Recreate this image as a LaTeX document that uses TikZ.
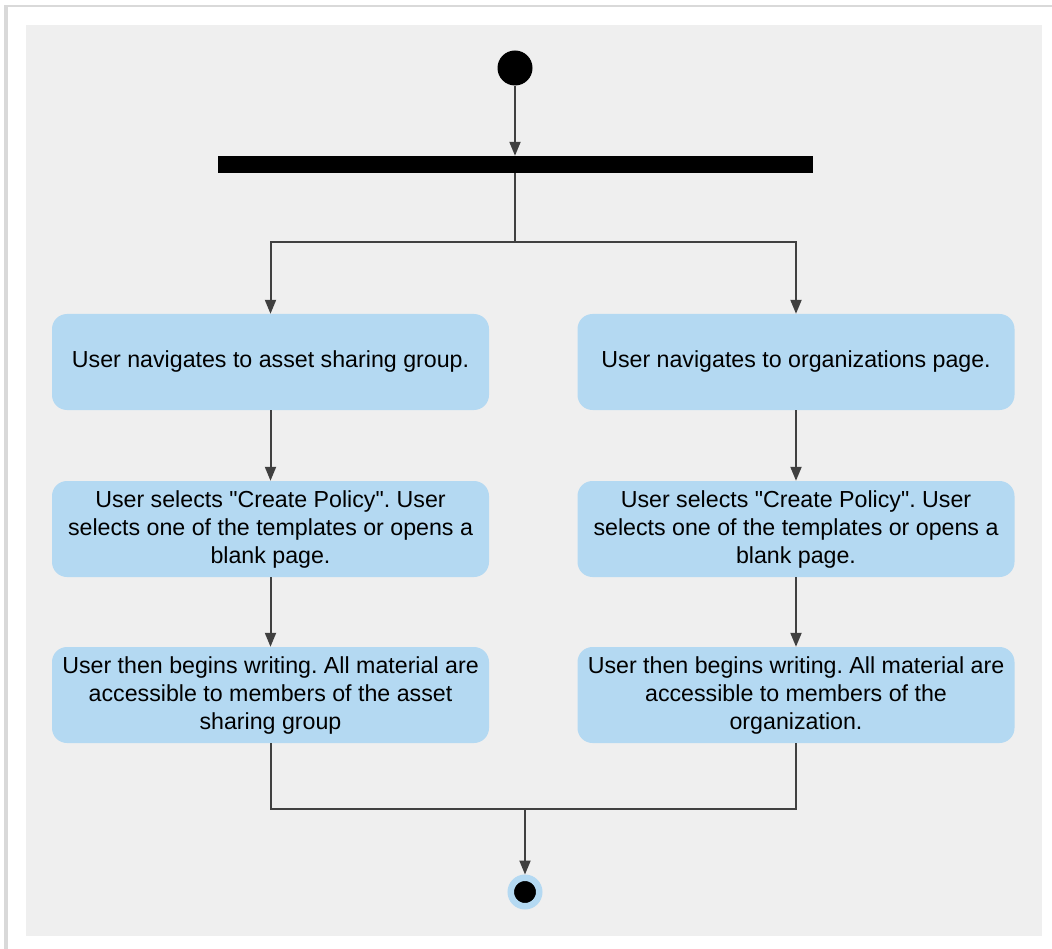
\documentclass[tikz,border=0pt]{standalone}
\usepackage{fontspec}
\setmainfont{Liberation Sans}[Ligatures=TeXOff]
\usetikzlibrary{arrows.meta}
\frenchspacing

\definecolor{actblue}{RGB}{180,217,242}
\definecolor{panelgray}{RGB}{239,239,239}
\definecolor{linegray}{RGB}{64,64,64}

\tikzset{
  action/.style={fill=actblue, rounded corners=15pt, minimum width=437pt, minimum height=96pt,
    inner sep=0pt, align=center, font=\fontsize{23.2}{28}\selectfont},
  link/.style={linegray, line width=2pt},
  flow/.style={link, -{Triangle[length=14pt,width=11pt]}},
}

\begin{document}
\begin{tikzpicture}[x=1pt,y=-1pt]
\useasboundingbox (0,0) rectangle (1052,949);
% Sheet with shadow
\fill[black!15] (4,5) rectangle (1052,949);
\fill[white] (8,7) rectangle (1052,949);
\fill[panelgray] (26,25) rectangle (1042,936);

% Start and fork bar
\node[circle, fill=black, minimum size=35pt, inner sep=0pt] (start) at (515,68) {};
\node[fill=black, minimum width=595pt, minimum height=17pt, inner sep=0pt] (fork) at (515.5,164.5) {};

% Left branch
\node[action] (navA) at (270.5,362) {User navigates to asset sharing group.};
\node[action] (policyA) at (270.5,529) {User selects "Create Policy". User\\selects one of the templates or opens a\\blank page.};
\node[action] (writeA) at (270.5,695) {User then begins writing. All material are\\accessible to members of the asset\\sharing group};

% Right branch
\node[action] (navB) at (796,362) {User navigates to organizations page.};
\node[action] (policyB) at (796,529) {User selects "Create Policy". User\\selects one of the templates or opens a\\blank page.};
\node[action] (writeB) at (796,695) {User then begins writing. All material are\\accessible to members of the\\organization.};

% End
\node[circle, fill=black, draw=actblue, line width=6.5pt, minimum size=28.5pt, inner sep=0pt] (finish) at (525,892) {};

% Connectors
\coordinate (split) at (515,242);
\coordinate (join) at (525,809);
\draw[flow] (start.south) -- (start.south |- fork.north);
\draw[link] (split |- fork.south) -- (split);
\draw[flow] (split) -| (navA.north);
\draw[flow] (split) -| (navB.north);
\draw[flow] (navA) -- (policyA);
\draw[flow] (policyA) -- (writeA);
\draw[flow] (navB) -- (policyB);
\draw[flow] (policyB) -- (writeB);
\draw[link] (writeA.south) |- (join);
\draw[link] (writeB.south) |- (join);
\draw[flow] (join) -- (finish);
\end{tikzpicture}
\end{document}
